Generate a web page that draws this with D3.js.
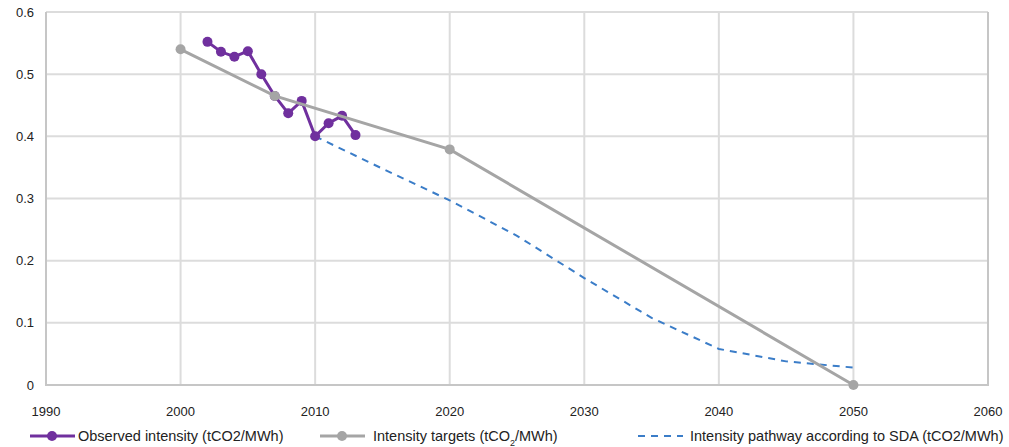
<!DOCTYPE html>
<html lang="en">
<head>
  <meta charset="utf-8" />
  <title>Intensity pathway</title>
  <script src="https://cdn.jsdelivr.net/npm/d3@7"></script>
  <style>
    body { margin: 0; background: #fff; }
    text { font-family: "Liberation Sans", Arial, sans-serif; fill: #222; }
    .grid line { stroke: #dcdcdc; stroke-width: 2px; }
    .frame { stroke: #c6c6c6; stroke-width: 2px; fill: none; }
    .obs-line { fill: none; stroke: #70309e; stroke-width: 3px; }
    .obs-dot { fill: #70309e; }
    .target-line { fill: none; stroke: #a5a5a5; stroke-width: 3px; }
    .target-dot { fill: #a5a5a5; }
    .sda-line { fill: none; stroke: #3b7dc8; stroke-width: 2px; stroke-dasharray: 7, 6; }
  </style>
</head>
<body>
<script>
  var obsYears = [2002, 2003, 2004, 2005, 2006, 2007, 2008, 2009, 2010, 2011, 2012, 2013];
  var obsValues = [0.552, 0.536, 0.528, 0.537, 0.500, 0.465, 0.437, 0.457, 0.400, 0.421, 0.433, 0.402];

  var targetYears = [2000, 2007, 2020, 2050];
  var targetValues = [0.540, 0.465, 0.379, 0.0];

  var sdaYears = [2010, 2015, 2020, 2025, 2030, 2035, 2040, 2045, 2050];
  var sdaValues = [0.400, 0.348, 0.297, 0.240, 0.172, 0.108, 0.058, 0.038, 0.028];

  var xTicks = [1990, 2000, 2010, 2020, 2030, 2040, 2050, 2060];
  var yTicks = [0, 0.1, 0.2, 0.3, 0.4, 0.5, 0.6];

  var w = 1009;
  var h = 447;
  var margin = { top: 12, right: 21, bottom: 62, left: 46 };

  var svg = d3.select("body").append("svg")
    .attr("width", w)
    .attr("height", h);

  var xScale = d3.scaleLinear()
    .domain([1990, 2060])
    .range([margin.left, w - margin.right]);

  var yScale = d3.scaleLinear()
    .domain([0, 0.6])
    .range([h - margin.bottom, margin.top]);

  // gridlines
  var grid = svg.append("g").attr("class", "grid");
  grid.selectAll(".vx")
    .data(xTicks.slice(1, -1))
    .enter().append("line")
    .attr("x1", function(d) { return xScale(d); })
    .attr("x2", function(d) { return xScale(d); })
    .attr("y1", yScale(0.6))
    .attr("y2", yScale(0));
  grid.selectAll(".hy")
    .data(yTicks.slice(1))
    .enter().append("line")
    .attr("x1", xScale(1990))
    .attr("x2", xScale(2060))
    .attr("y1", function(d) { return yScale(d); })
    .attr("y2", function(d) { return yScale(d); });

  // left, bottom, right border
  svg.append("path")
    .attr("class", "frame")
    .attr("d", "M" + xScale(1990) + "," + yScale(0.6) +
      "V" + yScale(0) + "H" + xScale(2060) + "V" + yScale(0.6));

  // tick labels
  svg.selectAll(".ylab")
    .data(yTicks)
    .enter().append("text")
    .attr("x", margin.left - 12)
    .attr("y", function(d) { return yScale(d); })
    .attr("dy", "0.35em")
    .attr("text-anchor", "end")
    .style("font-size", "13px")
    .text(function(d) { return d === 0 ? "0" : d3.format(".1f")(d); });

  svg.selectAll(".xlab")
    .data(xTicks)
    .enter().append("text")
    .attr("x", function(d) { return xScale(d); })
    .attr("y", yScale(0) + 26)
    .attr("dy", "0.35em")
    .attr("text-anchor", "middle")
    .style("font-size", "13px")
    .text(function(d) { return d; });

  var zip = function(xs, ys) {
    return xs.map(function(x, i) { return [x, ys[i]]; });
  };
  var line = d3.line()
    .x(function(d) { return xScale(d[0]); })
    .y(function(d) { return yScale(d[1]); });

  var sda = zip(sdaYears, sdaValues);
  var targets = zip(targetYears, targetValues);
  var obs = zip(obsYears, obsValues);

  svg.append("path").datum(sda).attr("class", "sda-line").attr("d", line);

  svg.append("path").datum(obs).attr("class", "obs-line").attr("d", line);
  svg.selectAll(".obs-dot")
    .data(obs)
    .enter().append("circle")
    .attr("class", "obs-dot")
    .attr("cx", function(d) { return xScale(d[0]); })
    .attr("cy", function(d) { return yScale(d[1]); })
    .attr("r", 5);

  svg.append("path").datum(targets).attr("class", "target-line").attr("d", line);
  svg.selectAll(".target-dot")
    .data(targets)
    .enter().append("circle")
    .attr("class", "target-dot")
    .attr("cx", function(d) { return xScale(d[0]); })
    .attr("cy", function(d) { return yScale(d[1]); })
    .attr("r", 5);

  // legend
  var ly = 436;
  var leg = svg.append("g").style("font-size", "14.5px");

  leg.append("line").attr("class", "obs-line")
    .attr("x1", 30).attr("x2", 75).attr("y1", ly).attr("y2", ly);
  leg.append("circle").attr("class", "obs-dot").attr("cx", 52).attr("cy", ly).attr("r", 5);
  leg.append("text").attr("x", 78).attr("y", ly).attr("dy", "0.35em")
    .text("Observed intensity (tCO2/MWh)");

  leg.append("line").attr("class", "target-line")
    .attr("x1", 320).attr("x2", 365).attr("y1", ly).attr("y2", ly);
  leg.append("circle").attr("class", "target-dot").attr("cx", 342).attr("cy", ly).attr("r", 5);
  var tt = leg.append("text").attr("x", 373).attr("y", ly).attr("dy", "0.35em");
  tt.append("tspan").text("Intensity targets (tCO");
  tt.append("tspan").attr("baseline-shift", "sub").style("font-size", "9px").text("2");
  tt.append("tspan").text("/MWh)");

  leg.append("line").attr("class", "sda-line")
    .attr("x1", 638).attr("x2", 683).attr("y1", ly).attr("y2", ly);
  leg.append("text").attr("x", 690).attr("y", ly).attr("dy", "0.35em")
    .text("Intensity pathway according to SDA (tCO2/MWh)");
</script>
</body>
</html>
